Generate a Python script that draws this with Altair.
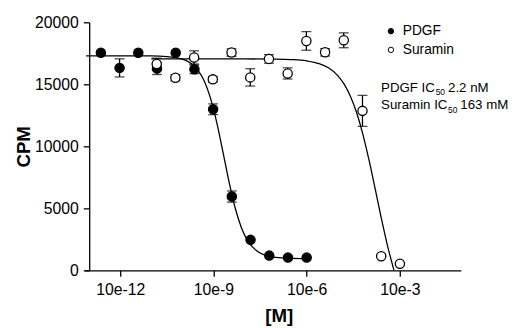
import altair as alt
import pandas as pd

# ---- data (x = log10 of molar concentration) ----
pdgf_x = [-12.622, -12.02, -11.418, -10.816, -10.214, -9.612, -9.01, -8.408, -7.806, -7.204, -6.602, -6.0]
pdgf_y = [17540, 16325, 17540, 16270, 17540, 16210, 12990, 5950, 2460, 1190, 1030, 1030]
pdgf_err = [0, 730, 0, 480, 0, 350, 430, 450, 0, 0, 0, 0]

sur_x = [-10.826, -10.224, -9.622, -9.02, -8.418, -7.816, -7.214, -6.612, -6.01, -5.408, -4.806, -4.204, -3.602, -3.0]
sur_y = [16640, 15530, 17170, 15400, 17560, 15560, 17050, 15880, 18500, 17580, 18550, 12860, 1140, 530]
sur_err = [470, 250, 530, 250, 300, 700, 350, 450, 750, 300, 600, 1250, 0, 0]

# fitted curves
pdgf_curve_x = [-13.1, -11.0, -10.5, -10.0, -9.75, -9.5, -9.3, -9.1, -8.9, -8.7, -8.5, -8.3, -8.1, -7.9, -7.6, -7.3, -7.0, -6.5, -6.0]
pdgf_curve_y = [17300, 17287, 17242, 17034, 16740, 16141, 15281, 13926, 12000, 9624, 7162, 5027, 3444, 2403, 1562, 1200, 1051, 972, 955]
sur_curve_x = [-11.0, -8.0, -7.0, -6.5, -6.0, -5.6, -5.3, -5.0, -4.8, -4.6, -4.4, -4.2, -4.0, -3.8, -3.6, -3.4, -3.19]
sur_curve_y = [17050, 17048, 17032, 16996, 16890, 16671, 16331, 15706, 15034, 14078, 12764, 11052, 8966, 6626, 4234, 2000, 0]

tick_vals = [-12, -9, -6, -3]
y_ticks = [0, 5000, 10000, 15000, 20000]
series_names = ["PDGF", "Suramin"]

pts = pd.DataFrame({
    "x": pdgf_x + sur_x,
    "y": pdgf_y + sur_y,
    "err": pdgf_err + sur_err,
    "series": [series_names[0]] * len(pdgf_x) + [series_names[1]] * len(sur_x),
})
pts["lo"] = pts["y"] - pts["err"]
pts["hi"] = pts["y"] + pts["err"]
errs = pts[pts["err"] > 0]

curves = pd.DataFrame({
    "x": pdgf_curve_x + sur_curve_x,
    "y": pdgf_curve_y + sur_curve_y,
    "series": [series_names[0]] * len(pdgf_curve_x) + [series_names[1]] * len(sur_curve_x),
})

FONT = "Liberation Sans"
xscale = alt.Scale(domain=[-13.14, -1.04], nice=False, zero=False)
yscale = alt.Scale(domain=[0, 20000], nice=False)

xaxis = alt.Axis(values=tick_vals, labelExpr="'10e' + datum.value", title="[M]",
                 grid=False, tickSize=6, tickWidth=1.3, domainWidth=1.3,
                 domainColor="black", tickColor="black", labelColor="black",
                 labelFont=FONT, labelFontSize=16, labelPadding=6,
                 titleFont=FONT, titleFontSize=19, titleFontWeight="bold", titleColor="black",
                 titleX=197, titleY=52, titleAlign="center", titleBaseline="alphabetic")
yaxis = alt.Axis(values=y_ticks, format="d", title="CPM", offset=-4.5,
                 grid=False, tickSize=6, tickWidth=1.3, domainWidth=1.3,
                 domainColor="black", tickColor="black", labelColor="black",
                 labelFont=FONT, labelFontSize=16, labelPadding=5,
                 titleFont=FONT, titleFontSize=19, titleFontWeight="bold", titleColor="black",
                 titleX=-67, titleY=126, titleAlign="center", titleBaseline="middle", titleAngle=270)

curve = alt.Chart(curves).mark_line(color="black", strokeWidth=1.3, interpolate="monotone").encode(
    x=alt.X("x:Q", scale=xscale, axis=xaxis),
    y=alt.Y("y:Q", scale=yscale, axis=yaxis),
    detail="series:N",
)

rules = alt.Chart(errs).mark_rule(color="black", strokeWidth=1.3).encode(
    x="x:Q", y="lo:Q", y2="hi:Q")
caps_lo = alt.Chart(errs).mark_tick(color="black", orient="horizontal", size=10, thickness=1.3).encode(
    x="x:Q", y="lo:Q")
caps_hi = alt.Chart(errs).mark_tick(color="black", orient="horizontal", size=10, thickness=1.3).encode(
    x="x:Q", y="hi:Q")

points = alt.Chart(pts).mark_circle(stroke="black", strokeWidth=1.3, size=88, opacity=1).encode(
    x="x:Q", y="y:Q",
    fill=alt.Fill("series:N",
                  scale=alt.Scale(domain=series_names, range=["black", "white"]),
                  legend=alt.Legend(orient="none", legendX=304, legendY=2, title=None,
                                    symbolType="circle", symbolSize=30, symbolStrokeColor="black",
                                    symbolStrokeWidth=1, symbolOpacity=1,
                                    labelFont=FONT, labelFontSize=14, labelColor="black",
                                    labelOffset=5, rowPadding=5, padding=0)),
)


def label(txt, px, py, size):
    return alt.Chart(pd.DataFrame({"t": [txt]})).mark_text(
        align="left", baseline="alphabetic", font=FONT, fontSize=size, color="black"
    ).encode(x=alt.value(px), y=alt.value(py), text="t:N")


texts = [
    label("PDGF IC", 301, 71, 13.5),
    label("50", 356.5, 74, 8.5),
    label("2.2 nM", 369, 71, 13.5),
    label("Suramin IC", 301, 88.5, 13.5),
    label("50", 369, 92, 8.5),
    label("163 mM", 381.5, 88.5, 13.5),
]

chart = alt.layer(curve, rules, caps_lo, caps_hi, points, *texts).properties(
    width=382, height=252,
    autosize=alt.AutoSizeParams(type="none"),
    padding={"left": 78, "top": 12, "right": 52, "bottom": 56},
).configure_view(stroke=None)

chart.save("out.html", embed_options={"renderer": "svg", "actions": False})
